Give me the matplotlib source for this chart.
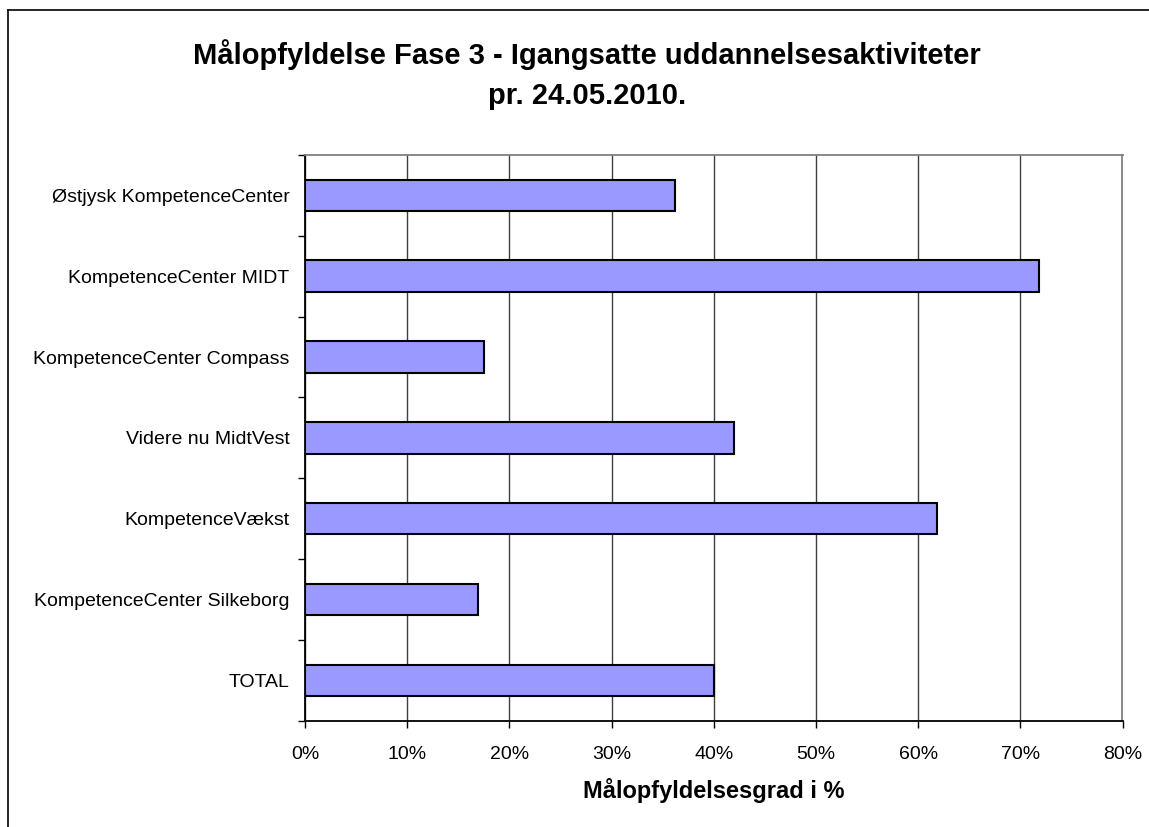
import numpy as np
import matplotlib
matplotlib.use('Agg')
import matplotlib.pyplot as plt
from matplotlib.ticker import FuncFormatter, FixedLocator

# Data (top to bottom)
categories = ['Østjysk KompetenceCenter', 'KompetenceCenter MIDT', 'KompetenceCenter Compass',
              'Videre nu MidtVest', 'KompetenceVækst', 'KompetenceCenter Silkeborg', 'TOTAL']
values = [36.2, 71.8, 17.5, 42.0, 61.8, 16.9, 40.0]
x_ticks = [0, 10, 20, 30, 40, 50, 60, 70, 80]

plt.rcParams['font.family'] = ['Liberation Sans', 'DejaVu Sans']

W, H = 1149, 827
fig = plt.figure(figsize=(W / 100, H / 100), dpi=100)

# chart area border (only top/left visible, rest is cropped)
fig.add_artist(plt.Line2D([8 / W, 8 / W], [0, 1 - 10 / H], transform=fig.transFigure, color='black', lw=1.2))
fig.add_artist(plt.Line2D([8 / W, 1], [1 - 10 / H, 1 - 10 / H], transform=fig.transFigure, color='black', lw=1.2))

ax = fig.add_axes([305 / W, 1 - 720.7 / H, (1122.5 - 305) / W, (720.7 - 155) / H])

y_pos = np.arange(len(categories))[::-1]
ax.barh(y_pos, values, height=0.39, color='#9999FF', edgecolor='black', linewidth=1.5, zorder=3)

ax.set_xlim(0, 80)
ax.set_ylim(-0.5, len(categories) - 0.5)

ax.set_xticks(x_ticks)
ax.xaxis.set_major_formatter(FuncFormatter(lambda v, p: '{:d}%'.format(int(round(v)))))
ax.tick_params(axis='x', direction='out', length=5, width=1, pad=13, labelsize=14)
ax.grid(axis='x', color='#404040', linewidth=1, zorder=0)

ax.set_yticks(y_pos)
ax.set_yticklabels(categories)
ax.tick_params(axis='y', which='major', length=0, pad=11, labelsize=14)
ax.yaxis.set_minor_locator(FixedLocator(np.arange(-0.5, len(categories), 1.0)))
ax.tick_params(axis='y', which='minor', direction='out', length=5, width=1)

for side in ['top', 'right']:
    ax.spines[side].set_color('#808080')
    ax.spines[side].set_linewidth(1.3)
for side in ['left', 'bottom']:
    ax.spines[side].set_color('black')
    ax.spines[side].set_linewidth(1.3)

ax.set_xlabel('Målopfyldelsesgrad i %', fontsize=17, fontweight='bold', labelpad=11)

fig.text(587 / W, 1 - 64 / H, 'Målopfyldelse Fase 3 - Igangsatte uddannelsesaktiviteter',
         ha='center', va='baseline', fontsize=21, fontweight='bold')
fig.text(587 / W, 1 - 103.5 / H, 'pr. 24.05.2010.',
         ha='center', va='baseline', fontsize=21, fontweight='bold')

fig.savefig('out.png', dpi=100)
